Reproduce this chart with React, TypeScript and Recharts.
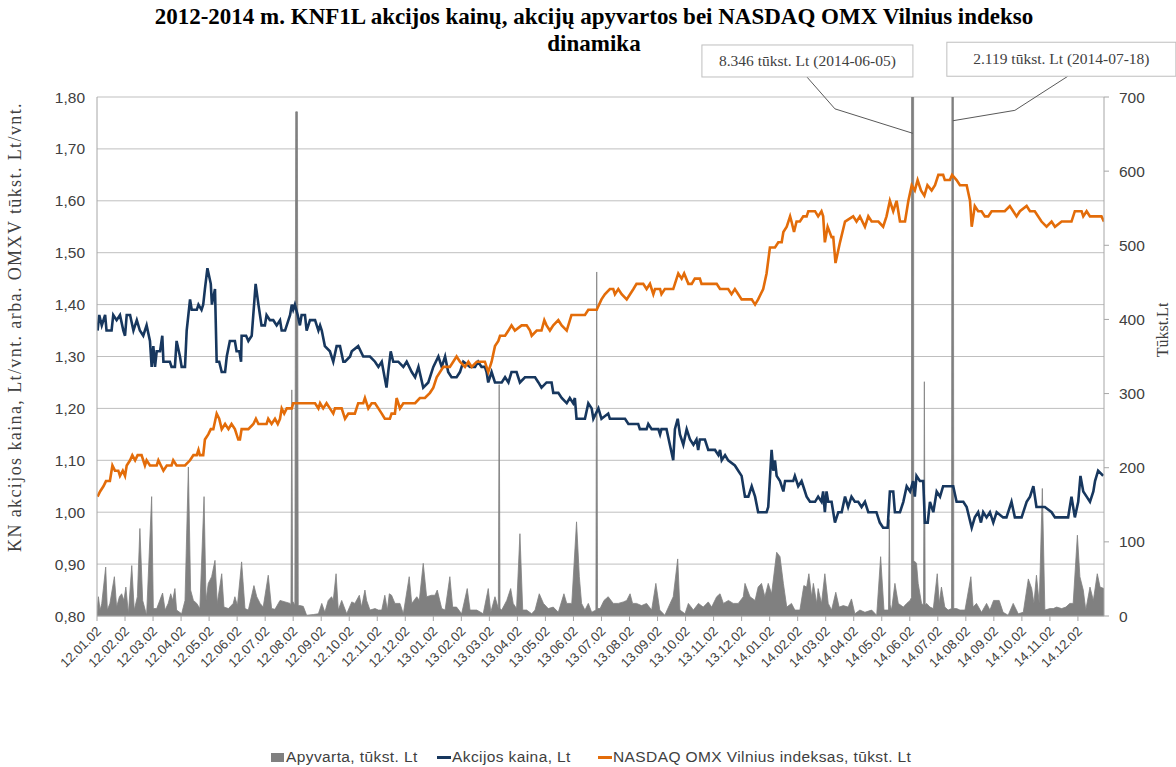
import React from 'react';
import {
  ComposedChart,
  Line,
  Area,
  XAxis,
  YAxis,
  CartesianGrid,
  ReferenceLine,
  ReferenceDot,
} from 'recharts';

// x values are months counted from 2012-01-02 (0 = 12.01.02, 35 = 14.12.02)
const MONTH_LABELS = [
  '12.01.02', '12.02.02', '12.03.02', '12.04.02', '12.05.02', '12.06.02',
  '12.07.02', '12.08.02', '12.09.02', '12.10.02', '12.11.02', '12.12.02',
  '13.01.02', '13.02.02', '13.03.02', '13.04.02', '13.05.02', '13.06.02',
  '13.07.02', '13.08.02', '13.09.02', '13.10.02', '13.11.02', '13.12.02',
  '14.01.02', '14.02.02', '14.03.02', '14.04.02', '14.05.02', '14.06.02',
  '14.07.02', '14.08.02', '14.09.02', '14.10.02', '14.11.02', '14.12.02',
];
const MONTH_TICKS = MONTH_LABELS.map((_, i) => i);

const PRICE_TICKS = [0.8, 0.9, 1.0, 1.1, 1.2, 1.3, 1.4, 1.5, 1.6, 1.7, 1.8];
const TURNOVER_TICKS = [0, 100, 200, 300, 400, 500, 600, 700];

// Apyvarta, tūkst. Lt  [month, value]
const TURNOVER: [number, number][] = [
  [0, 5], [0.05, 26], [0.11, 8], [0.17, 17], [0.31, 66], [0.37, 8], [0.46, 17], [0.62, 53],
  [0.7, 12], [0.8, 26], [0.88, 30], [0.96, 21], [1.03, 39], [1.12, 3], [1.24, 68], [1.33, 8],
  [1.44, 26], [1.53, 118], [1.63, 21], [1.77, 1], [1.95, 161], [2.01, 10], [2.13, 10], [2.34, 31],
  [2.43, 8], [2.54, 17], [2.63, 30], [2.7, 21], [2.78, 37], [2.84, 8], [3.02, 3], [3.14, 21],
  [3.26, 201], [3.34, 35], [3.44, 21], [3.56, 17], [3.67, 10], [3.82, 161], [3.89, 21], [3.97, 44],
  [4.09, 53], [4.21, 75], [4.29, 17], [4.45, 57], [4.53, 12], [4.69, 10], [4.86, 17], [4.92, 26],
  [5.01, 14], [5.16, 73], [5.28, 10], [5.4, 8], [5.6, 41], [5.7, 26], [5.82, 17], [5.93, 12],
  [6.11, 55], [6.23, 10], [6.35, 9], [6.53, 21], [6.71, 19], [6.89, 17], [6.92, 15], [6.95, 305],
  [6.98, 20], [7.06, 15], [7.09, 680], [7.15, 680], [7.18, 14], [7.24, 14], [7.36, 13], [7.48, 1],
  [7.72, 2], [7.9, 3], [8.02, 17], [8.13, 5], [8.25, 21], [8.37, 26], [8.43, 21], [8.53, 57],
  [8.61, 8], [8.73, 21], [8.91, 3], [9.09, 19], [9.2, 17], [9.36, 28], [9.44, 12], [9.56, 35],
  [9.62, 21], [9.74, 8], [9.92, 10], [10.04, 8], [10.16, 8], [10.27, 28], [10.36, 8], [10.43, 30],
  [10.51, 28], [10.63, 17], [10.81, 17], [10.93, 3], [11.14, 53], [11.23, 17], [11.41, 26], [11.5, 21],
  [11.64, 71], [11.76, 26], [11.94, 28], [12.06, 28], [12.14, 35], [12.3, 10], [12.42, 8], [12.59, 53],
  [12.69, 12], [12.83, 12], [13.01, 3], [13.21, 37], [13.31, 8], [13.55, 8], [13.78, 3], [13.96, 37],
  [14.05, 5], [14.2, 26], [14.32, 10], [14.35, 312], [14.38, 10], [14.44, 8], [14.62, 21], [14.76, 37],
  [14.85, 17], [14.97, 10], [15.09, 111], [15.19, 8], [15.33, 8], [15.51, 3], [15.63, 8], [15.78, 30],
  [15.93, 17], [16.1, 10], [16.28, 12], [16.46, 5], [16.66, 30], [16.76, 17], [16.94, 17], [17.11, 127],
  [17.21, 53], [17.29, 17], [17.41, 8], [17.53, 17], [17.65, 5], [17.8, 8], [17.83, 464], [17.86, 10],
  [17.95, 10], [18.09, 21], [18.24, 26], [18.42, 17], [18.6, 17], [18.78, 19], [18.9, 21], [19.02, 30],
  [19.11, 17], [19.25, 17], [19.43, 14], [19.61, 17], [19.79, 8], [19.94, 44], [20.08, 8], [20.26, 1],
  [20.45, 17], [20.56, 26], [20.72, 77], [20.8, 8], [20.98, 3], [21.1, 17], [21.28, 8], [21.46, 17],
  [21.63, 12], [21.81, 19], [21.93, 12], [22.11, 26], [22.23, 30], [22.35, 17], [22.53, 21], [22.7, 17],
  [22.88, 17], [23.06, 26], [23.12, 44], [23.3, 26], [23.48, 21], [23.59, 39], [23.71, 44], [23.83, 26],
  [23.95, 44], [24.07, 30], [24.25, 86], [24.37, 80], [24.49, 44], [24.61, 12], [24.78, 17], [24.9, 8],
  [25.08, 8], [25.22, 41], [25.32, 39], [25.4, 57], [25.5, 26], [25.56, 44], [25.68, 17], [25.73, 37],
  [25.85, 17], [25.97, 57], [26.09, 17], [26.21, 8], [26.36, 32], [26.48, 12], [26.63, 14], [26.8, 12],
  [26.92, 23], [27.04, 3], [27.22, 8], [27.4, 5], [27.64, 8], [27.82, 1], [27.96, 80], [28.08, 8],
  [28.24, 8], [28.27, 130], [28.3, 15], [28.35, 8], [28.47, 44], [28.59, 17], [28.77, 12], [28.89, 17],
  [29.01, 21], [29.06, 25], [29.1, 8346], [29.14, 75], [29.24, 71], [29.3, 44], [29.42, 17], [29.49, 15],
  [29.52, 316], [29.55, 15], [29.6, 17], [29.72, 12], [29.84, 10], [29.98, 57], [30.05, 17], [30.13, 39],
  [30.25, 12], [30.37, 8], [30.49, 10], [30.53, 2119], [30.57, 10], [30.67, 10], [30.79, 8], [30.97, 8],
  [31.18, 53], [31.26, 12], [31.38, 17], [31.56, 5], [31.74, 17], [31.86, 8], [31.99, 21], [32.19, 21],
  [32.33, 5], [32.51, 1], [32.69, 17], [32.87, 3], [33.05, 5], [33.23, 50], [33.35, 37], [33.43, 17],
  [33.52, 55], [33.62, 17], [33.73, 172], [33.82, 8], [34.0, 10], [34.12, 10], [34.24, 12], [34.42, 10],
  [34.57, 12], [34.71, 17], [34.83, 17], [34.98, 109], [35.07, 53], [35.19, 35], [35.28, 8], [35.43, 39],
  [35.55, 21], [35.69, 57], [35.79, 39], [35.93, 37],
];

// Akcijos kaina, Lt  [month, value]
const PRICE: [number, number][] = [
  [0.02, 1.35], [0.08, 1.38], [0.17, 1.36], [0.29, 1.38], [0.34, 1.35], [0.52, 1.35], [0.58, 1.38],
  [0.7, 1.37], [0.82, 1.38], [0.94, 1.35], [1.0, 1.34], [1.06, 1.38], [1.18, 1.38], [1.3, 1.35],
  [1.42, 1.37], [1.53, 1.35], [1.65, 1.34], [1.77, 1.36], [1.89, 1.33], [1.95, 1.28], [2.01, 1.32],
  [2.07, 1.28], [2.13, 1.31], [2.25, 1.31], [2.33, 1.34], [2.37, 1.29], [2.6, 1.29], [2.66, 1.28],
  [2.78, 1.28], [2.84, 1.33], [2.96, 1.3], [3.02, 1.28], [3.14, 1.28], [3.2, 1.35], [3.32, 1.41],
  [3.38, 1.39], [3.56, 1.39], [3.62, 1.4], [3.73, 1.39], [3.79, 1.4], [3.85, 1.43], [3.94, 1.47],
  [4.06, 1.44], [4.1, 1.4], [4.21, 1.43], [4.27, 1.29], [4.36, 1.29], [4.45, 1.27], [4.57, 1.27],
  [4.63, 1.3], [4.74, 1.33], [4.92, 1.33], [4.98, 1.31], [5.08, 1.31], [5.14, 1.29], [5.16, 1.34],
  [5.32, 1.34], [5.4, 1.33], [5.52, 1.34], [5.66, 1.44], [5.76, 1.4], [5.87, 1.36], [5.99, 1.36],
  [6.05, 1.38], [6.17, 1.37], [6.29, 1.37], [6.41, 1.36], [6.53, 1.37], [6.59, 1.35], [6.71, 1.35],
  [6.83, 1.37], [6.89, 1.38], [6.95, 1.4], [7.0, 1.39], [7.06, 1.4], [7.16, 1.38], [7.24, 1.36],
  [7.3, 1.38], [7.42, 1.38], [7.48, 1.35], [7.6, 1.37], [7.78, 1.37], [7.9, 1.35], [7.96, 1.36],
  [8.02, 1.35], [8.13, 1.32], [8.31, 1.31], [8.43, 1.29], [8.55, 1.32], [8.67, 1.32], [8.79, 1.29],
  [8.85, 1.29], [9.03, 1.3], [9.09, 1.31], [9.32, 1.32], [9.5, 1.3], [9.74, 1.3], [9.92, 1.29],
  [10.04, 1.28], [10.16, 1.29], [10.33, 1.24], [10.39, 1.27], [10.48, 1.31], [10.57, 1.29], [10.75, 1.29],
  [10.93, 1.28], [11.05, 1.29], [11.23, 1.27], [11.35, 1.26], [11.47, 1.28], [11.64, 1.24], [11.82, 1.25],
  [12.0, 1.28], [12.18, 1.3], [12.3, 1.28], [12.42, 1.3], [12.53, 1.27], [12.65, 1.26], [12.83, 1.26],
  [12.95, 1.27], [13.07, 1.29], [13.31, 1.28], [13.49, 1.28], [13.6, 1.29], [13.72, 1.28], [13.84, 1.28],
  [13.9, 1.27], [13.96, 1.25], [14.08, 1.27], [14.2, 1.25], [14.44, 1.25], [14.56, 1.26], [14.68, 1.25],
  [14.79, 1.27], [14.97, 1.27], [15.09, 1.25], [15.27, 1.26], [15.45, 1.26], [15.63, 1.26], [15.75, 1.25],
  [15.86, 1.24], [16.04, 1.25], [16.22, 1.25], [16.28, 1.23], [16.46, 1.23], [16.58, 1.22], [16.76, 1.21],
  [16.87, 1.22], [16.99, 1.21], [17.05, 1.22], [17.11, 1.18], [17.41, 1.18], [17.53, 1.21], [17.65, 1.2],
  [17.71, 1.18], [17.89, 1.2], [18.0, 1.18], [18.24, 1.19], [18.3, 1.18], [18.84, 1.18], [18.96, 1.17],
  [19.31, 1.17], [19.37, 1.16], [19.61, 1.16], [19.67, 1.17], [19.79, 1.16], [20.03, 1.16], [20.09, 1.15],
  [20.14, 1.16], [20.32, 1.16], [20.44, 1.13], [20.56, 1.1], [20.62, 1.16], [20.72, 1.18], [20.8, 1.15],
  [20.92, 1.13], [21.04, 1.16], [21.16, 1.14], [21.28, 1.13], [21.39, 1.14], [21.45, 1.12], [21.51, 1.14],
  [21.69, 1.14], [21.81, 1.12], [22.05, 1.12], [22.17, 1.11], [22.23, 1.12], [22.29, 1.1], [22.41, 1.11],
  [22.52, 1.1], [22.76, 1.09], [22.88, 1.08], [23.0, 1.07], [23.12, 1.03], [23.24, 1.03], [23.36, 1.05],
  [23.48, 1.03], [23.59, 1.0], [23.89, 1.0], [23.95, 1.01], [24.07, 1.12], [24.13, 1.08], [24.19, 1.1],
  [24.25, 1.07], [24.37, 1.06], [24.49, 1.04], [24.55, 1.06], [24.84, 1.06], [24.9, 1.07], [25.02, 1.05],
  [25.14, 1.06], [25.2, 1.05], [25.32, 1.03], [25.44, 1.02], [25.62, 1.02], [25.73, 1.03], [25.85, 1.02],
  [25.91, 1.04], [25.97, 1.0], [26.03, 1.04], [26.09, 1.02], [26.21, 1.02], [26.33, 0.98], [26.45, 1.0],
  [26.57, 1.0], [26.69, 1.03], [26.8, 1.01], [26.92, 1.03], [27.04, 1.02], [27.16, 1.02], [27.28, 1.01],
  [27.4, 1.02], [27.52, 1.0], [27.81, 1.0], [27.93, 0.98], [28.05, 0.97], [28.21, 0.97], [28.29, 1.04],
  [28.41, 1.04], [28.47, 1.0], [28.65, 1.0], [28.77, 1.02], [28.89, 1.05], [29.01, 1.04], [29.12, 1.06],
  [29.18, 1.03], [29.24, 1.07], [29.36, 1.06], [29.48, 1.06], [29.54, 0.98], [29.64, 0.98], [29.72, 1.02],
  [29.84, 1.0], [29.96, 1.04], [30.08, 1.03], [30.19, 1.05], [30.55, 1.05], [30.67, 1.02], [30.91, 1.02],
  [31.03, 1.01], [31.21, 0.97], [31.32, 0.99], [31.44, 1.0], [31.54, 0.98], [31.62, 1.0], [31.74, 0.99],
  [31.86, 1.0], [31.98, 0.98], [32.1, 1.0], [32.33, 0.99], [32.45, 0.99], [32.63, 1.02], [32.75, 0.99],
  [32.99, 0.99], [33.17, 1.02], [33.29, 1.03], [33.41, 1.05], [33.52, 1.01], [33.82, 1.01], [34.06, 1.0],
  [34.18, 0.99], [34.65, 0.99], [34.77, 1.03], [34.89, 0.99], [35.01, 1.02], [35.09, 1.07], [35.19, 1.04],
  [35.31, 1.03], [35.43, 1.02], [35.55, 1.04], [35.61, 1.06], [35.72, 1.08], [35.9, 1.07],
];

// NASDAQ OMX Vilnius indeksas, tūkst. Lt  [month, value]
const OMXV: [number, number][] = [
  [0.02, 1.03], [0.11, 1.04], [0.23, 1.05], [0.32, 1.06], [0.46, 1.06], [0.55, 1.09], [0.64, 1.08],
  [0.76, 1.08], [0.82, 1.07], [0.92, 1.08], [1.0, 1.07], [1.06, 1.09], [1.18, 1.1], [1.26, 1.11],
  [1.36, 1.1], [1.45, 1.11], [1.59, 1.11], [1.71, 1.09], [1.77, 1.1], [1.89, 1.09], [2.01, 1.09],
  [2.13, 1.09], [2.19, 1.1], [2.28, 1.09], [2.37, 1.08], [2.49, 1.09], [2.66, 1.09], [2.72, 1.1],
  [2.84, 1.09], [3.14, 1.09], [3.32, 1.1], [3.44, 1.11], [3.56, 1.11], [3.62, 1.12], [3.67, 1.11],
  [3.79, 1.11], [3.85, 1.14], [3.97, 1.15], [4.06, 1.16], [4.15, 1.16], [4.27, 1.19], [4.36, 1.18],
  [4.45, 1.16], [4.57, 1.17], [4.69, 1.16], [4.8, 1.17], [4.92, 1.16], [5.04, 1.14], [5.1, 1.14],
  [5.16, 1.16], [5.4, 1.16], [5.58, 1.17], [5.67, 1.18], [5.76, 1.17], [6.05, 1.17], [6.11, 1.18],
  [6.23, 1.17], [6.35, 1.18], [6.45, 1.17], [6.53, 1.18], [6.59, 1.2], [6.68, 1.19], [6.77, 1.2],
  [6.95, 1.2], [7.0, 1.21], [7.78, 1.21], [7.9, 1.2], [7.96, 1.21], [8.07, 1.2], [8.19, 1.21],
  [8.31, 1.2], [8.43, 1.19], [8.49, 1.2], [8.73, 1.2], [8.85, 1.18], [8.97, 1.19], [9.2, 1.19],
  [9.32, 1.21], [9.5, 1.21], [9.56, 1.22], [9.62, 1.21], [9.68, 1.2], [9.8, 1.21], [9.92, 1.21],
  [10.04, 1.2], [10.16, 1.19], [10.27, 1.18], [10.45, 1.18], [10.51, 1.19], [10.63, 1.19], [10.69, 1.22],
  [10.81, 1.2], [10.93, 1.21], [11.35, 1.21], [11.52, 1.22], [11.7, 1.22], [11.88, 1.23], [12.0, 1.24],
  [12.12, 1.26], [12.24, 1.27], [12.36, 1.28], [12.59, 1.28], [12.71, 1.29], [12.83, 1.3], [12.95, 1.29],
  [13.13, 1.28], [13.25, 1.29], [13.37, 1.28], [13.55, 1.29], [13.84, 1.29], [13.96, 1.27], [14.08, 1.29],
  [14.2, 1.32], [14.32, 1.33], [14.38, 1.34], [14.56, 1.34], [14.68, 1.35], [14.79, 1.36], [14.91, 1.35],
  [15.15, 1.36], [15.33, 1.36], [15.45, 1.35], [15.51, 1.34], [15.69, 1.35], [15.86, 1.35], [15.96, 1.37],
  [16.04, 1.36], [16.16, 1.35], [16.28, 1.36], [16.46, 1.37], [16.58, 1.36], [16.76, 1.35], [16.93, 1.38],
  [17.41, 1.38], [17.53, 1.39], [17.83, 1.39], [18.0, 1.41], [18.12, 1.42], [18.3, 1.43], [18.42, 1.43],
  [18.48, 1.42], [18.6, 1.43], [18.72, 1.42], [18.9, 1.41], [19.02, 1.42], [19.14, 1.43], [19.25, 1.44],
  [19.49, 1.44], [19.61, 1.43], [19.73, 1.44], [19.85, 1.42], [19.91, 1.43], [20.09, 1.43], [20.14, 1.42],
  [20.26, 1.43], [20.56, 1.43], [20.62, 1.44], [20.74, 1.46], [20.86, 1.45], [20.95, 1.46], [21.1, 1.44],
  [21.22, 1.44], [21.33, 1.45], [21.51, 1.45], [21.57, 1.44], [22.11, 1.44], [22.23, 1.43], [22.52, 1.43],
  [22.64, 1.42], [22.76, 1.43], [22.88, 1.42], [23.0, 1.41], [23.36, 1.41], [23.48, 1.4], [23.59, 1.41],
  [23.77, 1.43], [23.89, 1.46], [24.01, 1.51], [24.19, 1.51], [24.31, 1.52], [24.43, 1.52], [24.49, 1.54],
  [24.61, 1.55], [24.73, 1.57], [24.78, 1.56], [24.87, 1.54], [24.96, 1.56], [25.08, 1.56], [25.2, 1.57],
  [25.32, 1.57], [25.38, 1.58], [25.62, 1.58], [25.73, 1.57], [25.85, 1.58], [25.91, 1.57], [25.97, 1.52],
  [26.07, 1.55], [26.21, 1.53], [26.27, 1.53], [26.35, 1.48], [26.51, 1.52], [26.69, 1.56], [26.98, 1.57],
  [27.1, 1.56], [27.22, 1.57], [27.4, 1.55], [27.52, 1.57], [27.64, 1.56], [27.88, 1.56], [28.05, 1.55],
  [28.17, 1.57], [28.29, 1.6], [28.41, 1.58], [28.53, 1.6], [28.65, 1.56], [28.83, 1.56], [28.95, 1.6],
  [29.07, 1.63], [29.18, 1.62], [29.28, 1.64], [29.4, 1.62], [29.52, 1.61], [29.63, 1.63], [29.78, 1.62],
  [29.9, 1.63], [30.02, 1.65], [30.19, 1.65], [30.25, 1.64], [30.43, 1.64], [30.51, 1.65], [30.67, 1.64],
  [30.79, 1.63], [31.03, 1.63], [31.15, 1.6], [31.21, 1.55], [31.32, 1.59], [31.44, 1.58], [31.56, 1.58],
  [31.68, 1.57], [31.8, 1.57], [31.92, 1.58], [32.1, 1.58], [32.28, 1.58], [32.39, 1.58], [32.57, 1.59],
  [32.69, 1.58], [32.81, 1.57], [32.93, 1.58], [33.17, 1.59], [33.29, 1.58], [33.46, 1.58], [33.7, 1.56],
  [33.88, 1.55], [34.06, 1.56], [34.18, 1.55], [34.42, 1.56], [34.77, 1.56], [34.89, 1.58], [35.13, 1.58],
  [35.19, 1.57], [35.31, 1.58], [35.43, 1.57], [35.55, 1.57], [35.66, 1.57], [35.84, 1.57], [35.93, 1.56],
];

// callouts for the two clipped turnover spikes: box anchor, elbow and tip in [month, tūkst. Lt]
const CALLOUTS = [
  { text: '8.346 tūkst. Lt (2014-06-05)', box: [25.33, 727], elbow: [26.33, 684], tip: [29.11, 651] },
  { text: '2.119 tūkst. Lt (2014-07-18)', box: [34.64, 728], elbow: [32.75, 682], tip: [30.54, 668] },
];

const turnoverRows = TURNOVER.map(([t, v]) => ({ t, apyvarta: v }));
const priceRows = PRICE.map(([t, v]) => ({ t, kaina: v }));
const omxvRows = OMXV.map(([t, v]) => ({ t, omxv: v }));

const BLUE = '#17375E';
const ORANGE = '#E36C09';
const GRAY = '#808080';
const SANS = '"Liberation Sans", Arial, sans-serif';
const SERIF = '"Liberation Serif", "Times New Roman", serif';

const MonthTick = ({ x, y, payload }: any) => (
  <text
    x={x + 5}
    y={y + 9}
    transform={`rotate(-45 ${x + 5} ${y + 9})`}
    textAnchor="end"
    fontSize={13.2}
    fontFamily={SANS}
    fill="#404040"
  >
    {MONTH_LABELS[payload.value]}
  </text>
);

const boxShape = (i: number) => (props: any) => {
  const { cx, cy } = props;
  const left = i === 0 ? 105 : 121;
  const w = i === 0 ? 211 : 229;
  const h = i === 0 ? 32 : 34;
  return (
    <g>
      <rect x={cx - left} y={cy - h} width={w} height={h} fill="#fff" stroke="#bfbfbf" strokeWidth={1} />
      <text
        x={cx - left + w / 2}
        y={cy - h / 2 + 5}
        textAnchor="middle"
        fontSize={15.5}
        fontFamily={SERIF}
        fill="#404040"
      >
        {CALLOUTS[i].text}
      </text>
    </g>
  );
};

const legendText = {
  position: 'absolute' as const,
  top: 748,
  display: 'flex',
  alignItems: 'center',
  fontFamily: SANS,
  fontSize: 15.5,
  letterSpacing: 0.4,
  color: '#404040',
  whiteSpace: 'nowrap' as const,
};

export default function App() {
  return (
    <div style={{ position: 'absolute', left: 0, top: 0, width: 1176, height: 767, background: '#fff' }}>
      <div
        style={{
          position: 'absolute',
          left: 0,
          top: 3,
          width: 1188,
          textAlign: 'center',
          fontFamily: SERIF,
          fontWeight: 'bold',
          fontSize: 23,
          lineHeight: '27px',
          color: '#000',
        }}
      >
        2012-2014 m. KNF1L akcijos kainų, akcijų apyvartos bei NASDAQ OMX Vilnius indekso
        <br />
        dinamika
      </div>

      <ComposedChart
        width={1176}
        height={767}
        margin={{ top: 97, right: 0, bottom: 91, left: 0 }}
        style={{ position: 'absolute', left: 0, top: 0 }}
      >
        <CartesianGrid yAxisId="left" vertical={false} stroke="#bfbfbf" />
        <XAxis
          dataKey="t"
          type="number"
          domain={[0, 35.93]}
          allowDataOverflow
          ticks={MONTH_TICKS}
          interval={0}
          tick={<MonthTick />}
          tickSize={5}
          stroke="#a6a6a6"
          height={60}
        />
        <YAxis
          yAxisId="left"
          type="number"
          domain={[0.8, 1.8]}
          ticks={PRICE_TICKS}
          interval={0}
          width={97}
          tickLine={false}
          tickSize={0}
          tickMargin={12}
          stroke="#a6a6a6"
          tick={{ fill: '#404040', fontSize: 15.5, fontFamily: SANS }}
          tickFormatter={(v: number) => v.toFixed(2).replace('.', ',')}
        />
        <YAxis
          yAxisId="right"
          orientation="right"
          type="number"
          domain={[0, 700]}
          allowDataOverflow
          ticks={TURNOVER_TICKS}
          interval={0}
          width={72}
          tickSize={5}
          tickMargin={10}
          stroke="#a6a6a6"
          tick={{ fill: '#404040', fontSize: 15.5, fontFamily: SANS }}
        />
        <Line
          yAxisId="left"
          data={priceRows}
          dataKey="kaina"
          type="linear"
          stroke={BLUE}
          strokeWidth={2.6}
          dot={false}
          isAnimationActive={false}
        />
        <Line
          yAxisId="left"
          data={omxvRows}
          dataKey="omxv"
          type="linear"
          stroke={ORANGE}
          strokeWidth={2.6}
          dot={false}
          isAnimationActive={false}
        />
        <Area
          yAxisId="right"
          data={turnoverRows}
          dataKey="apyvarta"
          type="linear"
          stroke={GRAY}
          strokeWidth={0.8}
          fill={GRAY}
          fillOpacity={1}
          isAnimationActive={false}
        />
        {CALLOUTS.map((c, i) => (
          <ReferenceLine
            key={`a${i}`}
            yAxisId="right"
            segment={[{ x: c.box[0], y: c.box[1] }, { x: c.elbow[0], y: c.elbow[1] }]}
            stroke="#595959"
            strokeWidth={1}
            ifOverflow="visible"
          />
        ))}
        {CALLOUTS.map((c, i) => (
          <ReferenceLine
            key={`b${i}`}
            yAxisId="right"
            segment={[{ x: c.elbow[0], y: c.elbow[1] }, { x: c.tip[0], y: c.tip[1] }]}
            stroke="#595959"
            strokeWidth={1}
            ifOverflow="visible"
          />
        ))}
        {CALLOUTS.map((c, i) => (
          <ReferenceDot
            key={`c${i}`}
            yAxisId="right"
            x={c.box[0]}
            y={c.box[1]}
            ifOverflow="visible"
            shape={boxShape(i)}
          />
        ))}
      </ComposedChart>

      <div style={{ position: 'absolute', left: 15, top: 327, width: 0, height: 0 }}>
        <div
          style={{
            position: 'absolute',
            transform: 'translate(-50%, -50%) rotate(-90deg)',
            whiteSpace: 'nowrap',
            fontFamily: SERIF,
            fontSize: 18,
            letterSpacing: 1.4,
            color: '#404040',
          }}
        >
          KN akcijos kaina, Lt/vnt. arba. OMXV tūkst. Lt/vnt.
        </div>
      </div>
      <div style={{ position: 'absolute', left: 1163, top: 330, width: 0, height: 0 }}>
        <div
          style={{
            position: 'absolute',
            transform: 'translate(-50%, -50%) rotate(-90deg)',
            whiteSpace: 'nowrap',
            fontFamily: SERIF,
            fontSize: 16,
            color: '#404040',
          }}
        >
          Tūkst.Lt
        </div>
      </div>

      <div style={{ ...legendText, left: 271 }}>
        <span style={{ display: 'inline-block', width: 13, height: 9, background: GRAY, marginRight: 2 }} />
        <span>Apyvarta, tūkst. Lt</span>
      </div>
      <div style={{ ...legendText, left: 437 }}>
        <span style={{ display: 'inline-block', width: 14, height: 3, background: BLUE, marginRight: 1 }} />
        <span>Akcijos kaina, Lt</span>
      </div>
      <div style={{ ...legendText, left: 598 }}>
        <span style={{ display: 'inline-block', width: 14, height: 3, background: ORANGE, marginRight: 1 }} />
        <span>NASDAQ OMX Vilnius indeksas, tūkst. Lt</span>
      </div>
    </div>
  );
}
